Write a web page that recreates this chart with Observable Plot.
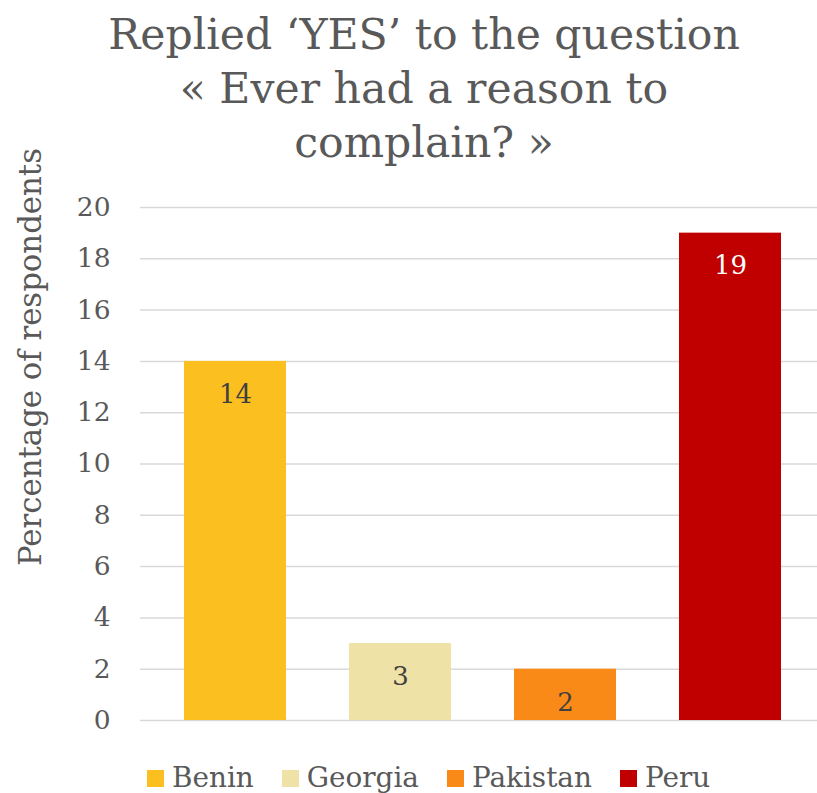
<!DOCTYPE html>
<html>
<head>
<meta charset="utf-8">
<script src="https://cdn.jsdelivr.net/npm/d3@7"></script>
<script src="https://cdn.jsdelivr.net/npm/@observablehq/plot@0.6"></script>
<style>
  html, body { margin: 0; padding: 0; background: #fff; overflow: hidden; }
  #wrap { position: relative; width: 817px; height: 793px; }
  #title { position: absolute; left: 0; width: 848px; text-align: center; color: #595959; }
  #chart { position: absolute; left: 0; top: 0; }
  #ylabel { position: absolute; white-space: nowrap; color: #595959; }
  #legend { position: absolute; left: 147px; display: flex; align-items: center; color: #595959; white-space: nowrap; }
  #legend .item { display: flex; align-items: center; }
  #legend .sw { width: 17px; height: 17px; margin-right: 8px; flex: none; }
</style>
</head>
<body>
<div id="wrap">
  <div id="chart"></div>
  <div id="title"></div>
  <div id="ylabel"></div>
  <div id="legend"></div>
</div>
<script>
const titleLines = ["Replied ‘YES’ to the question", "« Ever had a reason to", "complain? »"];
const countries = ["Benin", "Georgia", "Pakistan", "Peru"];
const values = [14, 3, 2, 19];
const colors = ["#FBBF1F", "#EFE2A6", "#FA8A17", "#C00000"];
const labelColors = ["#404040", "#404040", "#404040", "#ffffff"];
const yTicks = [0, 2, 4, 6, 8, 10, 12, 14, 16, 18, 20];
const yLabel = "Percentage of respondents";

const FAMILY = "'DejaVu Serif', 'Liberation Serif', serif";
const ctx = document.createElement("canvas").getContext("2d");
function fit(text, target) {
  ctx.font = `100px ${FAMILY}`;
  return 100 * target / ctx.measureText(text).width;
}

// Title
const titleSize = Math.min(fit(titleLines[0], 632), 50);
const title = document.getElementById("title");
title.style.fontFamily = FAMILY;
title.style.fontSize = titleSize + "px";
title.style.lineHeight = "54px";
title.innerHTML = titleLines.join("<br>");
title.style.top = (49 - 27 - titleSize * 0.36) + "px";

const data = countries.map((c, i) => ({country: c, value: values[i], color: colors[i], lc: labelColors[i]}));

const plot = Plot.plot({
  width: 817,
  height: 793,
  marginTop: 207,
  marginBottom: 73,
  marginLeft: 152,
  marginRight: 5,
  style: {fontFamily: FAMILY, fontSize: "26px", color: "#595959", background: "transparent"},
  x: {domain: countries, paddingInner: 0.382, paddingOuter: 0.191, axis: null},
  y: {domain: [0, 20]},
  marks: [
    Plot.ruleY(yTicks, {stroke: "#d9d9d9", strokeWidth: 1.5, insetLeft: -12, insetRight: -5}),
    Plot.barY(data, {x: "country", y: "value", fill: "color"}),
    Plot.axisY(yTicks, {tickSize: 0, tickPadding: 42, fontSize: 26.5, label: null}),
    Plot.text(data, {x: "country", y: "value", text: d => String(d.value), fill: "lc", dy: 33, fontSize: 26})
  ]
});
document.getElementById("chart").appendChild(plot);

// Y label (rotated)
const yl = document.getElementById("ylabel");
const ylSize = Math.min(fit(yLabel, 418), 40);
yl.textContent = yLabel;
yl.style.fontFamily = FAMILY;
yl.style.fontSize = ylSize + "px";
yl.style.lineHeight = ylSize + "px";
yl.style.left = "30px";
yl.style.top = "357px";
yl.style.transform = "translate(-50%, -50%) rotate(-90deg)";

// Legend
const legend = document.getElementById("legend");
const legSize = Math.min(fit("Pakistan", 120), 34);
legend.style.fontFamily = FAMILY;
legend.style.fontSize = legSize + "px";
legend.style.lineHeight = "34px";
legend.style.top = "761px";
countries.forEach((c, i) => {
  const item = document.createElement("div");
  item.className = "item";
  const sw = document.createElement("div");
  sw.className = "sw";
  sw.style.background = colors[i];
  const tx = document.createElement("span");
  tx.textContent = c;
  item.appendChild(sw);
  item.appendChild(tx);
  legend.appendChild(item);
});
legend.querySelectorAll(".item").forEach((el, i, all) => { if (i < all.length - 1) el.style.marginRight = "28px"; });
</script>
</body>
</html>
